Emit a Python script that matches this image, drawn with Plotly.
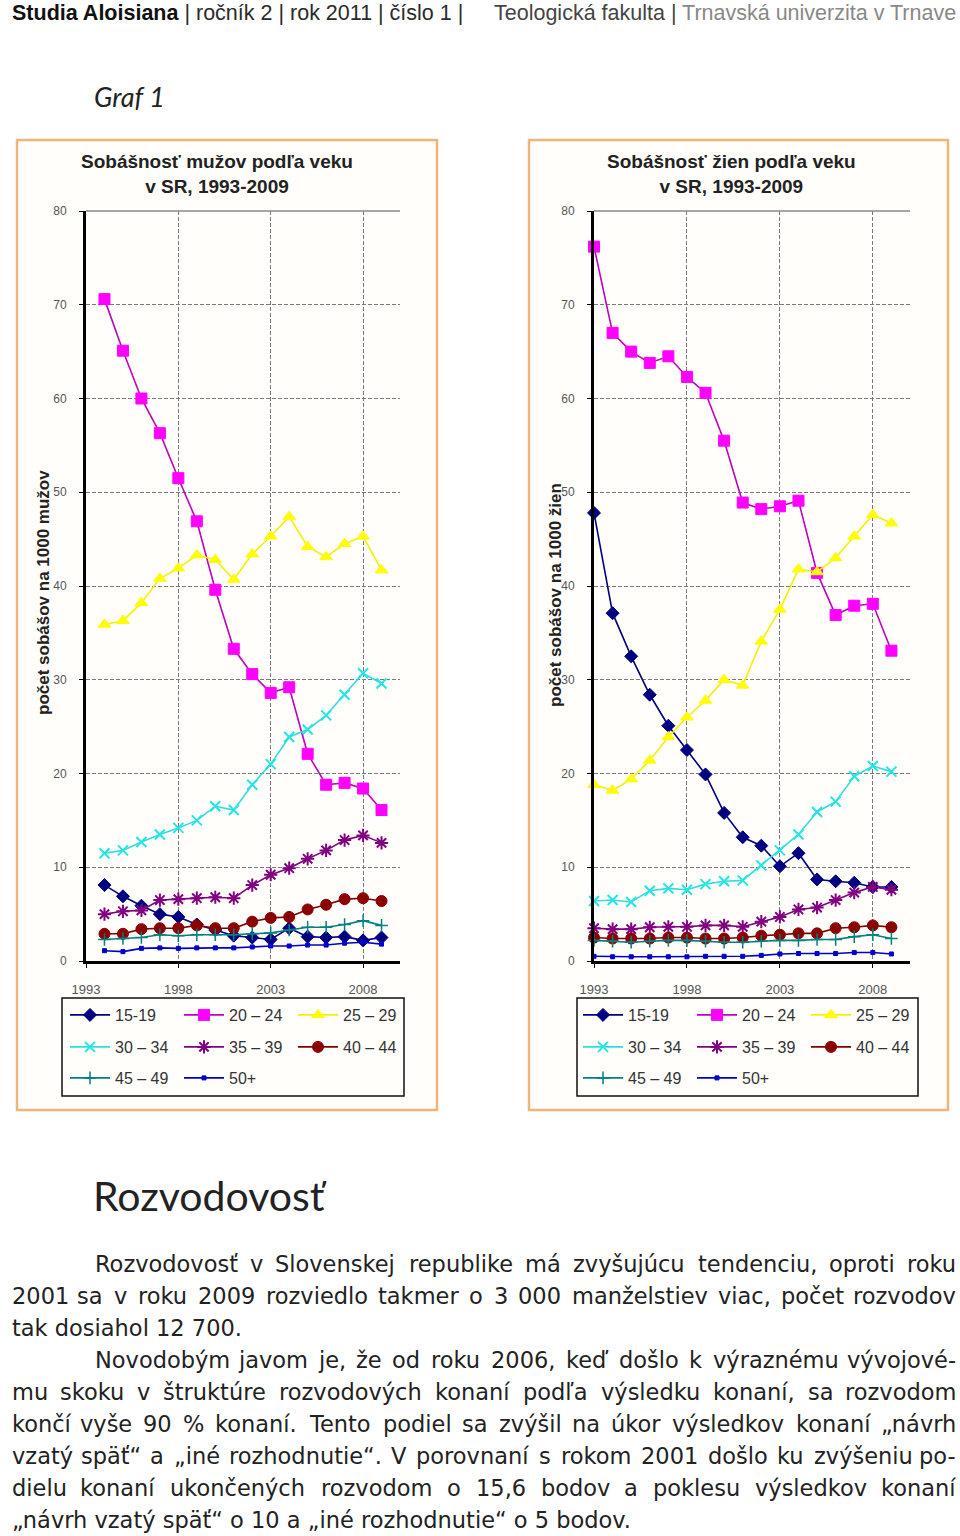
import unicodedata
import plotly.graph_objects as go

W, H = 960, 1536

# ---------------- data ----------------
years_m = list(range(1994, 2010))
years_f = list(range(1993, 2010))
age_groups = ["15-19", "20 – 24", "25 – 29", "30 – 34", "35 – 39", "40 – 44", "45 – 49", "50+"]

m_15_19 = [8.1, 6.9, 5.9, 5.0, 4.7, 3.9, 3.3, 2.7, 2.5, 2.3, 3.5, 2.6, 2.5, 2.6, 2.2, 2.5]
m_20_24 = [70.6, 65.1, 60.0, 56.3, 51.5, 46.9, 39.6, 33.3, 30.6, 28.6, 29.2, 22.1, 18.8, 19.0, 18.4, 16.1]
m_25_29 = [35.9, 36.3, 38.2, 40.8, 41.9, 43.3, 42.8, 40.7, 43.4, 45.3, 47.4, 44.2, 43.1, 44.5, 45.3, 41.7]
m_30_34 = [11.5, 11.8, 12.7, 13.5, 14.2, 15.0, 16.5, 16.1, 18.8, 21.0, 23.9, 24.7, 26.2, 28.4, 30.7, 29.6]
m_35_39 = [5.0, 5.3, 5.4, 6.5, 6.6, 6.7, 6.8, 6.7, 8.1, 9.2, 9.9, 10.9, 11.8, 12.9, 13.4, 12.6]
m_40_44 = [2.9, 2.9, 3.4, 3.5, 3.5, 3.8, 3.5, 3.5, 4.2, 4.6, 4.7, 5.5, 6.0, 6.6, 6.7, 6.4]
m_45_49 = [2.3, 2.4, 2.5, 2.8, 2.7, 2.8, 2.8, 2.8, 2.9, 3.0, 3.3, 3.6, 3.6, 3.9, 4.3, 3.8]
m_50_plus = [1.1, 1.0, 1.35, 1.4, 1.35, 1.4, 1.4, 1.4, 1.5, 1.6, 1.6, 1.7, 1.7, 1.9, 2.0, 1.8]

f_15_19 = [47.8, 37.1, 32.5, 28.4, 25.1, 22.5, 19.9, 15.8, 13.2, 12.3, 10.1, 11.5, 8.7, 8.5, 8.35, 7.9, 7.9]
f_20_24 = [76.2, 67.0, 65.0, 63.8, 64.5, 62.3, 60.6, 55.5, 48.9, 48.2, 48.5, 49.1, 41.4, 36.9, 37.9, 38.1, 33.1]
f_25_29 = [18.8, 18.2, 19.4, 21.4, 23.9, 26.0, 27.8, 30.0, 29.4, 34.1, 37.5, 41.8, 41.5, 43.0, 45.3, 47.6, 46.7]
f_30_34 = [6.4, 6.5, 6.3, 7.5, 7.75, 7.6, 8.2, 8.5, 8.6, 10.2, 11.8, 13.5, 15.9, 17.0, 19.7, 20.8, 20.2]
f_35_39 = [3.5, 3.4, 3.4, 3.6, 3.65, 3.65, 3.8, 3.8, 3.65, 4.2, 4.7, 5.5, 5.7, 6.5, 7.3, 7.9, 7.6]
f_40_44 = [2.5, 2.4, 2.4, 2.4, 2.5, 2.5, 2.4, 2.4, 2.5, 2.7, 2.8, 2.95, 2.95, 3.5, 3.6, 3.8, 3.6]
f_45_49 = [2.2, 2.1, 2.0, 2.1, 2.2, 2.2, 2.1, 2.0, 2.0, 2.1, 2.2, 2.2, 2.3, 2.3, 2.6, 2.8, 2.4]
f_50_plus = [0.5, 0.45, 0.45, 0.45, 0.45, 0.45, 0.5, 0.5, 0.5, 0.6, 0.75, 0.8, 0.8, 0.8, 0.9, 0.9, 0.75]

x_tick_years = [1993, 1998, 2003, 2008]
y_ticks = [0, 10, 20, 30, 40, 50, 60, 70, 80]

men_series = [m_15_19, m_20_24, m_25_29, m_30_34, m_35_39, m_40_44, m_45_49, m_50_plus]
women_series = [f_15_19, f_20_24, f_25_29, f_30_34, f_35_39, f_40_44, f_45_49, f_50_plus]

header_left = "Studia Aloisiana"
header_mid = " | ročník 2 | rok 2011 | číslo 1 |"
header_fac = "Teologická fakulta |"
header_uni = "Trnavská univerzita v Trnave"
graf_label = "Graf 1"
title_m = "Sobášnosť mužov podľa veku<br>v SR, 1993-2009"
title_f = "Sobášnosť žien podľa veku<br>v SR, 1993-2009"
ytitle_m = "počet sobášov na 1000 mužov"
ytitle_f = "počet sobášov na 1000 žien"
heading = "Rozvodovosť"
body_lines = [
    ("Rozvodovosť v Slovenskej republike má zvyšujúcu tendenciu, oproti roku", True, True),
    ("2001 sa v roku 2009 rozviedlo takmer o 3 000 manželstiev viac, počet rozvodov", False, True),
    ("tak dosiahol 12 700.", False, False),
    ("Novodobým javom je, že od roku 2006, keď došlo k výraznému vývojové-", True, True),
    ("mu skoku v štruktúre rozvodových konaní podľa výsledku konaní, sa rozvodom", False, True),
    ("končí vyše 90 % konaní. Tento podiel sa zvýšil na úkor výsledkov konaní „návrh", False, True),
    ("vzatý späť“ a „iné rozhodnutie“. V porovnaní s rokom 2001 došlo ku zvýšeniu po-", False, True),
    ("dielu konaní ukončených rozvodom o 15,6 bodov a poklesu výsledkov konaní", False, True),
    ("„návrh vzatý späť“ o 10 a „iné rozhodnutie“ o 5 bodov.", False, False),
]

# ---------------- styles ----------------
ARIAL = "Arial, Liberation Sans, sans-serif"
BODY = "DejaVu Sans, Verdana, sans-serif"
HEAD = "Lato, Noto Sans, sans-serif"
styles = [
    dict(color="#000080", line="#000080", symbol="diamond", size=10, mlw=1),
    dict(color="#FF00FF", line="#C000C0", symbol="square", size=11, mlw=1),
    dict(color="#FFFF00", line="#F2F200", symbol="triangle-up", size=11, mlw=1),
    dict(color="#22E5E5", line="#33DDDD", symbol="x-thin-open", size=10, mlw=2),
    dict(color="#800080", line="#800080", symbol="asterisk-open", size=11, mlw=2),
    dict(color="#8B0000", line="#800000", symbol="circle", size=11, mlw=1),
    dict(color="#008080", line="#008080", symbol="cross-thin-open", size=9, mlw=1.5),
    dict(color="#0000CC", line="#0000CC", symbol="square", size=4, mlw=1),
]
row_of = [0, 0, 0, 1, 1, 1, 2, 2]


def px_x(p):
    return p / W


def px_y(p):
    return 1 - p / H


fig = go.Figure()
for chart, (xs, series, ax) in enumerate([(years_m, men_series, ""), (years_f, women_series, "2")]):
    for i, (name, vals) in enumerate(zip(age_groups, series)):
        st = styles[i]
        leg_idx = chart * 3 + row_of[i] + 1
        fig.add_trace(go.Scatter(
            x=xs, y=vals, name=name, mode="lines+markers",
            xaxis="x" + ax, yaxis="y" + ax,
            line=dict(color=st["line"], width=1.6),
            marker=dict(symbol=st["symbol"], size=st["size"], color=st["color"],
                        line=dict(color=st["color"], width=st["mlw"])),
            cliponaxis=False,
            legend="legend" if leg_idx == 1 else "legend%d" % leg_idx,
        ))

plot_top, plot_bot = 211, 961

axis_common_x = dict(range=[1993, 2010], tickvals=x_tick_years, showgrid=True,
                     gridcolor="#7a7a7a", gridwidth=1.3, griddash="4px,2px",
                     showline=True, linecolor="black", linewidth=3,
                     ticks="outside", ticklen=4, tickcolor="black",
                     ticklabelstandoff=10,
                     tickfont=dict(family=ARIAL, size=13, color="#555"), zeroline=False)
axis_common_y = dict(range=[0, 80], tickvals=y_ticks, showgrid=True,
                     gridcolor="#7a7a7a", gridwidth=1.3, griddash="4px,2px",
                     showline=True, linecolor="black", linewidth=3,
                     ticks="outside", ticklen=4, tickcolor="black",
                     ticklabelstandoff=10,
                     tickfont=dict(family=ARIAL, size=12, color="#555"), zeroline=False)

fig.update_layout(
    xaxis=dict(domain=[px_x(86), px_x(400)], anchor="y", **axis_common_x),
    yaxis=dict(domain=[px_y(plot_bot), px_y(plot_top)], anchor="x", **axis_common_y),
    xaxis2=dict(domain=[px_x(594), px_x(910)], anchor="y2", **axis_common_x),
    yaxis2=dict(domain=[px_y(plot_bot), px_y(plot_top)], anchor="x2", **axis_common_y),
)

# legends: one per row, per chart
leg_rows_y = [1015, 1047, 1078]
leg_x = [65, 578]
for chart in range(2):
    for r in range(3):
        idx = chart * 3 + r + 1
        key = "legend" if idx == 1 else "legend%d" % idx
        fig.update_layout(**{key: dict(
            x=px_x(leg_x[chart]), y=px_y(leg_rows_y[r]), xanchor="left", yanchor="middle",
            orientation="h", bgcolor="rgba(0,0,0,0)", borderwidth=0,
            font=dict(family=ARIAL, size=16, color="#333"),
            entrywidth=59, entrywidthmode="pixels", itemwidth=40,
        )})

shapes = []
for (x0, x1) in [(17, 437), (529, 948)]:
    shapes.append(dict(type="rect", xref="paper", yref="paper",
                       x0=px_x(x0), x1=px_x(x1), y0=px_y(1110), y1=px_y(140),
                       line=dict(color="#EFB57C", width=2.5), fillcolor="#FFFEFB", layer="below"))
for (x0, x1) in [(62, 404), (577, 918)]:
    shapes.append(dict(type="rect", xref="paper", yref="paper",
                       x0=px_x(x0), x1=px_x(x1), y0=px_y(1096), y1=px_y(998),
                       line=dict(color="#111", width=1.5), fillcolor="rgba(0,0,0,0)"))
for ax in ["x", "x2"]:
    shapes.append(dict(type="line", xref=ax + " domain", yref="paper",
                       x0=0, x1=1, y0=px_y(plot_top), y1=px_y(plot_top),
                       line=dict(color="#8a8a8a", width=1.5)))

ann = []
HEADF = "Liberation Sans, Arial, sans-serif"
ann.append(dict(x=px_x(10), y=px_y(13), xref="paper", yref="paper", xanchor="left", yanchor="middle",
                showarrow=False,
                text="<span style='color:#111'><b>%s</b></span><span style='color:#2a2a2a'>%s</span>" % (header_left, header_mid),
                font=dict(family=HEADF, size=21.5)))
ann.append(dict(x=px_x(958), y=px_y(13), xref="paper", yref="paper", xanchor="right", yanchor="middle",
                showarrow=False,
                text="<span style='color:#444'>%s</span> <span style='color:#888'>%s</span>" % (header_fac, header_uni),
                font=dict(family=HEADF, size=21.5)))
ann.append(dict(x=px_x(92), y=px_y(97), xref="paper", yref="paper", xanchor="left", yanchor="middle",
                showarrow=False, text="<i>%s</i>" % graf_label,
                font=dict(family=HEAD, size=27, color="#222")))
for cx, t in [(217, title_m), (731, title_f)]:
    ann.append(dict(x=px_x(cx), y=px_y(174), xref="paper", yref="paper", xanchor="center", yanchor="middle",
                    showarrow=False, text="<b>%s</b>" % t.replace("<br>", "</b><br><b>"),
                    font=dict(family=ARIAL, size=19, color="#222")))
for cx, cy, t in [(44, 593, ytitle_m), (555, 595, ytitle_f)]:
    ann.append(dict(x=px_x(cx), y=px_y(cy), xref="paper", yref="paper", xanchor="center", yanchor="middle",
                    showarrow=False, textangle=-90, text="<b>%s</b>" % t,
                    font=dict(family=ARIAL, size=17, color="#222")))
ann.append(dict(x=px_x(91), y=px_y(1195), xref="paper", yref="paper", xanchor="left", yanchor="middle",
                showarrow=False, text=heading, font=dict(family=HEAD, size=41, color="#222")))

# approximate DejaVu Sans advance widths (em) for justification
DV = dict(a=.613, b=.635, c=.550, d=.635, e=.615, f=.352, g=.635, h=.634, i=.278, j=.278, k=.579,
          l=.278, m=.974, n=.634, o=.612, p=.635, q=.635, r=.411, s=.521, t=.392, u=.634, v=.592,
          w=.818, x=.592, y=.592, z=.525, R=.695, S=.635, T=.611, N=.748, V=.684)
DV.update({"ľ": .37, "ť": .40, "ď": .70, ",": .318, ".": .318, "-": .361, "%": .950,
           "„": .518, "“": .518, " ": .318})


def cw(ch):
    if ch in DV:
        return DV[ch]
    if ch.isdigit():
        return .636
    base = unicodedata.normalize("NFD", ch)[0]
    return DV.get(base, .65)


def text_w(s, size):
    return sum(cw(c) for c in s) * size


BODY_SIZE = 22.5
XR = 958
line_y0, line_dy = 1264, 32
for k, (txt, indent, justify) in enumerate(body_lines):
    y = px_y(line_y0 + k * line_dy)
    x0 = 93 if indent else 10
    if justify:
        words = txt.split(" ")
        ws = [text_w(w_, BODY_SIZE) for w_ in words]
        gap = (XR - x0 - sum(ws)) / (len(words) - 1)
        pos = x0
        for j, (wd, wv) in enumerate(zip(words, ws)):
            if j == 0:
                xa, xp = "left", pos
            elif j == len(words) - 1:
                xa, xp = "right", XR
            else:
                xa, xp = "center", pos + wv / 2
            ann.append(dict(x=px_x(xp), y=y, xref="paper", yref="paper", xanchor=xa, yanchor="middle",
                            showarrow=False, text=wd, font=dict(family=BODY, size=BODY_SIZE, color="#222")))
            pos += wv + gap
    else:
        ann.append(dict(x=px_x(x0), y=y, xref="paper", yref="paper", xanchor="left", yanchor="middle",
                        showarrow=False, text=txt, font=dict(family=BODY, size=BODY_SIZE, color="#222")))

fig.update_layout(
    width=W, height=H, margin=dict(l=0, r=0, t=0, b=0, autoexpand=False),
    paper_bgcolor="white", plot_bgcolor="white",
    shapes=shapes, annotations=ann, showlegend=True,
)

fig.write_html("out.html", config={"displayModeBar": False},
               post_script="document.body.style.margin='0';document.body.style.overflow='hidden';")
